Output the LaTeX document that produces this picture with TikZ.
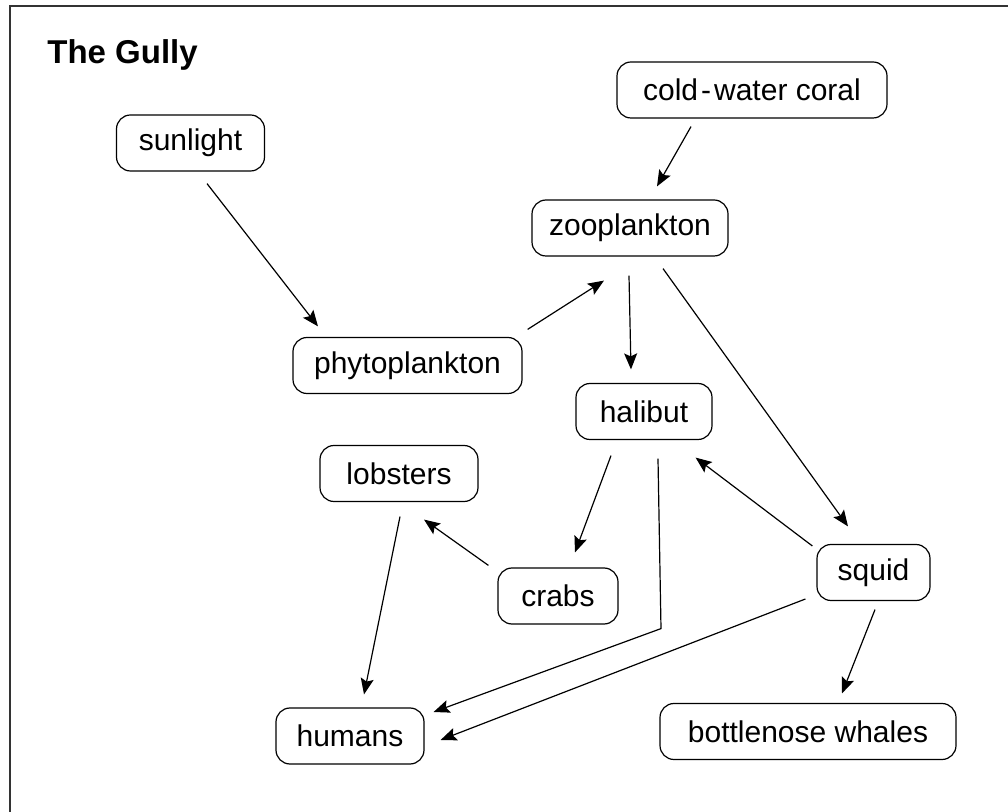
\documentclass[tikz,border=0pt]{standalone}
\usepackage{fontspec}
\setmainfont{Liberation Sans}
\usetikzlibrary{arrows.meta}

\begin{document}
\begin{tikzpicture}[x=0.5pt, y=-0.5pt,
  taxon/.style={draw, rounded corners=7pt, minimum height=28pt, inner sep=0pt,
    line width=0.6pt, font=\fontsize{15}{18}\selectfont},
  eats/.style={-{Stealth[length=8pt,width=6.5pt,inset=1.5pt]}, line width=0.6pt}]
  \useasboundingbox (0,0) rectangle (1008,812);
  \draw[line width=0.8pt, black!80] (10,812) -- (10,6) -- (1008,6);
  \node[anchor=base west, inner sep=0pt, font=\fontsize{16.5}{20}\selectfont\bfseries] (title) at (47,64) {The Gully};
  % the food web
  \node[taxon, minimum width=74pt] (sunlight) at (190.5,143) {sunlight};
  \node[taxon, minimum width=135pt] (coral) at (752,90) {cold\kern1.5pt-\kern1.5pt water coral};
  \node[taxon, minimum width=98pt] (zoo) at (630,228) {zooplankton};
  \node[taxon, minimum width=114.5pt] (phyto) at (407.5,365.5) {phytoplankton};
  \node[taxon, minimum width=68pt] (halibut) at (644,411.5) {halibut};
  \node[taxon, minimum width=79pt] (lobsters) at (399,473.5) {lobsters};
  \node[taxon, minimum width=60pt] (crabs) at (558,596) {crabs};
  \node[taxon, minimum width=56.5pt] (squid) at (873.5,572.5) {squid};
  \node[taxon, minimum width=74pt] (humans) at (350,736) {humans};
  \node[taxon, minimum width=148pt] (whales) at (808,731.5) {bottlenose whales};
  % who feeds whom
  \draw[eats] ([shift={(16.5,12)}]sunlight.south) -- ([shift={(-89.5,-10.5)}]phyto.north);
  \draw[eats] ([shift={(5,-7.5)}]phyto.north east) -- ([shift={(-26,24)}]zoo.south);
  \draw[eats] ([shift={(-61,8)}]coral.south) -- ([shift={(27,-13)}]zoo.north);
  \draw[eats] ([shift={(-1,19)}]zoo.south) -- ([shift={(-13,-13.5)}]halibut.north);
  \draw[eats] ([shift={(33,12)}]zoo.south) -- ([shift={(-25.5,-17.5)}]squid.north);
  \draw[eats] ([shift={(-33,15.5)}]halibut.south) -- ([shift={(17,-15)}]crabs.north);
  \draw[eats] ([shift={(14,18.5)}]halibut.south) -- ++(3,170) -- ([shift={(9,-24)}]humans.east);
  \draw[eats] ([shift={(-4,-26.5)}]squid.west) -- ([shift={(-17,17.5)}]halibut.south east);
  \draw[eats] ([shift={(-11,26.5)}]squid.west) -- ([shift={(16,4)}]humans.east);
  \draw[eats] ([shift={(-9,-2)}]crabs.north west) -- ([shift={(25,17.5)}]lobsters.south);
  \draw[eats] ([shift={(1,14.5)}]lobsters.south) -- ([shift={(14,-13)}]humans.north);
  \draw[eats] ([shift={(1.5,8.5)}]squid.south) -- ([shift={(34,-9.5)}]whales.north);
\end{tikzpicture}
\end{document}
